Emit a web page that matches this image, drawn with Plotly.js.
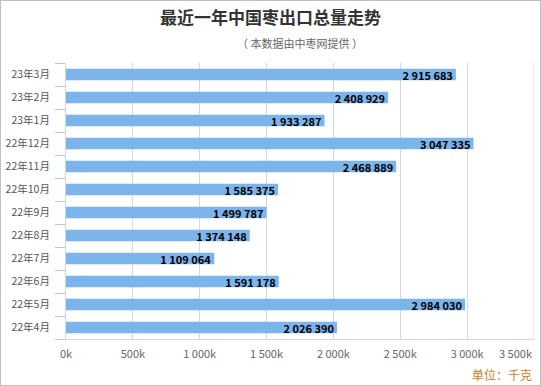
<!DOCTYPE html>
<html><head><meta charset="utf-8">
<script src="https://cdn.plot.ly/plotly-3.0.1.min.js"></script>
<style>html,body{margin:0;padding:0;background:#fff}#c{width:541px;height:386px;box-sizing:border-box;border:1px solid #c0c0c0}</style>
</head><body><div id="c"></div>
<script>
const months = ['22年4月','22年5月','22年6月','22年7月','22年8月','22年9月','22年10月','22年11月','22年12月','23年1月','23年2月','23年3月'];
const exportsKg = [2026390,2984030,1591178,1109064,1374148,1499787,1585375,2468889,3047335,1933287,2408929,2915683];
const tickVals = [0,500000,1000000,1500000,2000000,2500000,3000000,3500000];
const tickText = ['0k','500k','1 000k','1 500k','2 000k','2 500k','3 000k','3 500k'];
const F = '"Noto Sans CJK SC", "Noto Sans", sans-serif';
const last = tickVals.length - 1;
Plotly.newPlot('c', [{
  type:'bar', orientation:'h', y:months, x:exportsKg,
  marker:{color:'#7cb5ec'},
  texttemplate:'<b>%{x:,}</b>', textposition:'inside', insidetextanchor:'end',
  textfont:{family:F, size:11, color:'#000'}, constraintext:'none',
  hoverinfo:'none'
}], {
  width:539, height:384, separators:'. ',
  margin:{l:65, r:6, t:62, b:46},
  paper_bgcolor:'#fff', plot_bgcolor:'#fff',
  bargap:0.5, showlegend:false,
  font:{family:F, size:11, color:'#555'},
  title:{text:'<b>最近一年中国枣出口总量走势</b>', font:{family:F, size:17, color:'#333'}, x:0.5, xanchor:'center', y:0.955, yanchor:'middle'},
  xaxis:{range:[0,3500000], tickvals:tickVals.slice(0,last), ticktext:tickText.slice(0,last), showgrid:true, gridcolor:'#d8d8d8', gridwidth:1,
    zeroline:false, showline:true, linecolor:'#ccd6eb', ticks:'', ticklabelstandoff:5, tickfont:{family:F,size:11,color:'#666'}},
  yaxis:{showgrid:false, showline:true, linecolor:'#ccd6eb', ticks:'outside', tickson:'boundaries', ticklen:10, tickwidth:1, tickcolor:'#b8c8dc',
    ticklabelstandoff:13, tickfont:{family:F,size:10.5,color:'#555'}, automargin:false},
  shapes:[{type:'line', xref:'x', yref:'paper', x0:tickVals[last], x1:tickVals[last], y0:0, y1:1, line:{color:'#d8d8d8', width:1}}],
  annotations:[
    {text:tickText[last], xref:'x', yref:'paper', x:tickVals[last], y:0, yshift:-14, xanchor:'right', yanchor:'middle', showarrow:false, font:{family:F,size:11,color:'#666'}},
    {text:'（ 本数据由中枣网提供 ）', xref:'paper', yref:'paper', x:0.5, y:1, yshift:20, xanchor:'center', yanchor:'middle', showarrow:false, font:{family:F,size:11,color:'#666'}},
    {text:'单位：千克', xref:'paper', yref:'paper', x:1, y:0, yshift:-35, xanchor:'right', yanchor:'middle', showarrow:false, font:{family:F,size:12,color:'#d07a1c'}}
  ]
}, {displayModeBar:false, staticPlot:true});
</script></body></html>
